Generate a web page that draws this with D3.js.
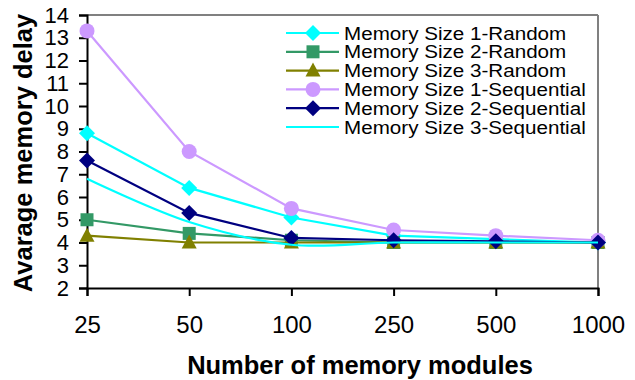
<!DOCTYPE html>
<html>
<head>
<meta charset="utf-8">
<script src="https://cdn.jsdelivr.net/npm/d3@7"></script>
<style>
  body { margin: 0; background: #fff; }
  text { font-family: Arial, "Liberation Sans", sans-serif; }
</style>
</head>
<body>
<div id="chart"></div>
<script>
// Chart data
const modules = ["25", "50", "100", "250", "500", "1000"];
const yTicks = [2, 3, 4, 5, 6, 7, 8, 9, 10, 11, 12, 13, 14];
const seriesNames = [
    "Memory Size 1-Random",
    "Memory Size 2-Random",
    "Memory Size 3-Random",
    "Memory Size 1-Sequential",
    "Memory Size 2-Sequential",
    "Memory Size 3-Sequential"
];
const size1Random = [8.8, 6.4, 5.1, 4.3, 4.15, 4.0];
const size2Random = [5.0, 4.4, 4.1, 4.0, 4.0, 4.0];
const size3Random = [4.3, 4.0, 4.0, 4.0, 4.0, 4.0];
const size1Sequential = [13.3, 8.0, 5.5, 4.55, 4.3, 4.1];
const size2Sequential = [7.6, 5.3, 4.2, 4.1, 4.05, 4.0];
const size3Sequential = [6.8, 4.9, 3.9, 4.0, 4.0, 4.0];

const seriesValues = [size1Random, size2Random, size3Random, size1Sequential, size2Sequential, size3Sequential];
const colors = ["#00ffff", "#339966", "#808000", "#cc99ff", "#000080", "#00ffff"];
const markers = ["diamond", "square", "triangle", "circle", "diamond", null];

const width = 635, height = 380;
const margin = {top: 15, right: 37, bottom: 92, left: 87};
const innerW = width - margin.left - margin.right;
const innerH = height - margin.top - margin.bottom;

const svg = d3.select("#chart").append("svg")
    .attr("width", width)
    .attr("height", height);

const g = svg.append("g")
    .attr("transform", `translate(${margin.left},${margin.top})`);

const x = d3.scalePoint().domain(modules).range([0, innerW]).padding(0);
const y = d3.scaleLinear().domain([2, 14]).range([innerH, 0]);

// Gray frame top and right
g.append("line").attr("x1", 0).attr("x2", innerW).attr("y1", 0).attr("y2", 0)
    .attr("stroke", "#808080").attr("stroke-width", 2);
g.append("line").attr("x1", innerW).attr("x2", innerW).attr("y1", 0).attr("y2", innerH)
    .attr("stroke", "#808080").attr("stroke-width", 2);

// Axes
const yAxis = g.append("g")
    .call(d3.axisLeft(y).tickValues(yTicks).tickSize(8).tickPadding(10));
const xAxis = g.append("g")
    .attr("transform", `translate(0,${innerH})`)
    .call(d3.axisBottom(x).tickSize(8).tickPadding(20));

[xAxis, yAxis].forEach(a => {
    a.select(".domain").attr("stroke", "#000").attr("stroke-width", 2);
    a.selectAll(".tick line").attr("stroke", "#000").attr("stroke-width", 2);
    a.selectAll(".tick text").attr("fill", "#000")
        .style("font-family", "Arial, 'Liberation Sans', sans-serif");
});
xAxis.selectAll(".tick text").style("font-size", "24px");
yAxis.selectAll(".tick text").style("font-size", "22px");

// Axis titles
svg.append("text")
    .attr("x", 360)
    .attr("y", 374)
    .attr("text-anchor", "middle")
    .style("font-size", "25.5px")
    .style("font-weight", "bold")
    .text("Number of memory modules");

svg.append("text")
    .attr("transform", `translate(32,153) rotate(-90)`)
    .attr("text-anchor", "middle")
    .style("font-size", "25.5px")
    .style("font-weight", "bold")
    .text("Avarage memory delay");

// Marker drawing
function drawMarker(sel, type, color) {
    if (type === "diamond") {
        sel.append("path").attr("d", "M0,-8L8,0L0,8L-8,0Z").attr("fill", color);
    } else if (type === "square") {
        sel.append("rect").attr("x", -6.5).attr("y", -6.5).attr("width", 13).attr("height", 13).attr("fill", color);
    } else if (type === "triangle") {
        sel.append("path").attr("d", "M0,-8L7.5,6L-7.5,6Z").attr("fill", color);
    } else if (type === "circle") {
        sel.append("circle").attr("r", 7.5).attr("fill", color);
    }
}

const line = d3.line().x((d, i) => x(modules[i])).y(d => y(d));
const smooth = d3.line().x((d, i) => x(modules[i])).y(d => y(d)).curve(d3.curveCatmullRom.alpha(0.5));

seriesValues.forEach((vals, s) => {
    g.append("path")
        .datum(vals)
        .attr("fill", "none")
        .attr("stroke", colors[s])
        .attr("stroke-width", 2.2)
        .attr("d", markers[s] ? line : smooth);
    if (markers[s]) {
        vals.forEach((v, i) => {
            const m = g.append("g").attr("transform", `translate(${x(modules[i])},${y(v)})`);
            drawMarker(m, markers[s], colors[s]);
        });
    }
});

// Legend
const legend = svg.append("g").attr("transform", "translate(286,33)");
seriesNames.forEach((name, s) => {
    const row = legend.append("g").attr("transform", `translate(0,${s * 18.8})`);
    row.append("line").attr("x1", 0).attr("x2", 53).attr("y1", 0).attr("y2", 0)
        .attr("stroke", colors[s]).attr("stroke-width", 2.2);
    if (markers[s]) {
        const m = row.append("g").attr("transform", "translate(27,0)");
        drawMarker(m, markers[s], colors[s]);
    }
    // reference text is slightly wider than tall, stretch it a bit
    row.append("text")
        .attr("transform", "translate(58,6.5) scale(1.115,1)")
        .style("font-size", "18.5px")
        .text(name);
});
</script>
</body>
</html>
